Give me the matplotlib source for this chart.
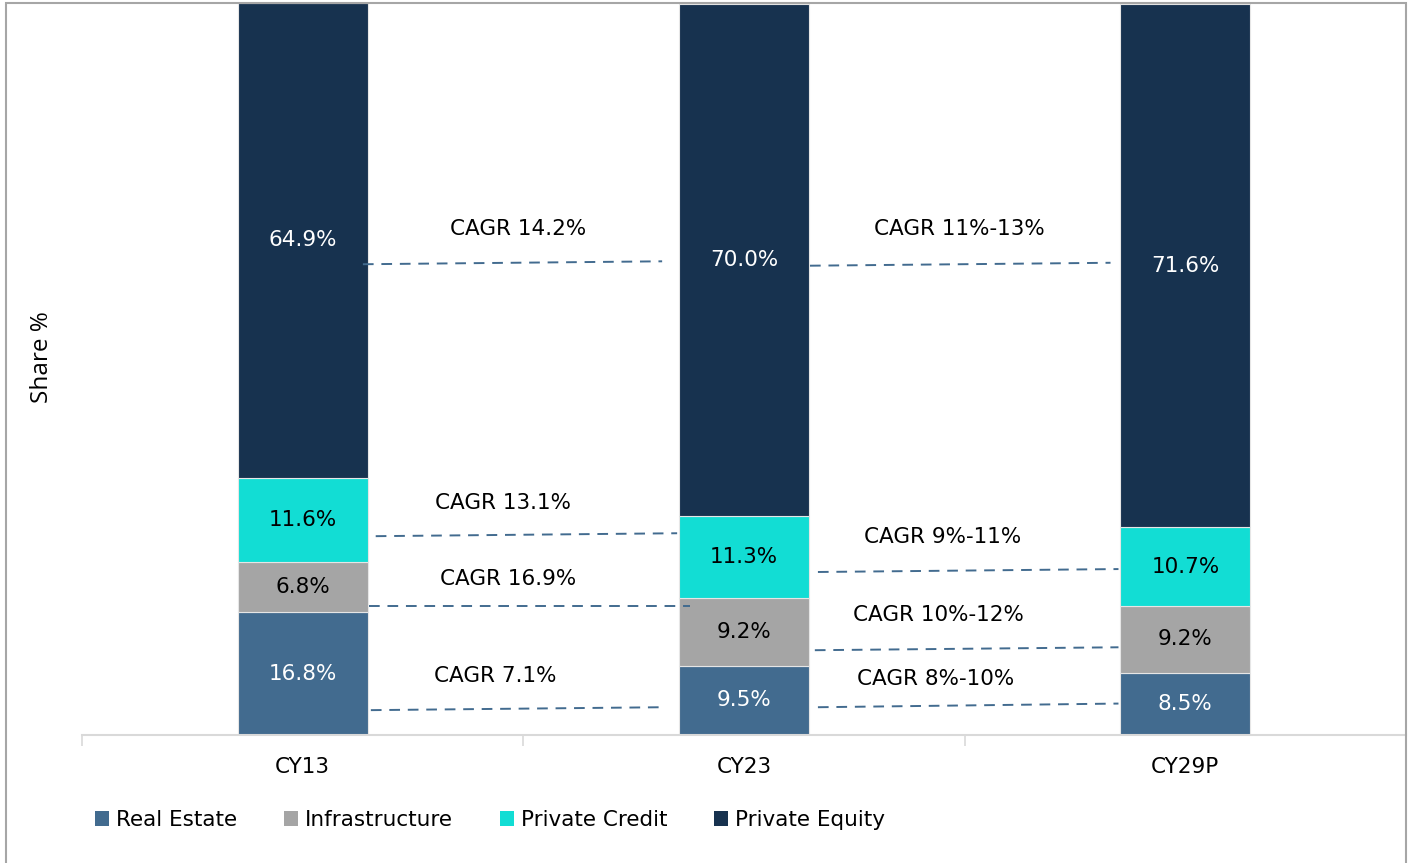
import matplotlib
matplotlib.use("Agg")
import matplotlib.pyplot as plt
from matplotlib.patches import Rectangle, Patch
import numpy as np

# data
years = ["CY13", "CY23", "CY29P"]
segments = ["Real Estate", "Infrastructure", "Private Credit", "Private Equity"]
real_estate = [16.8, 9.5, 8.5]
infrastructure = [6.8, 9.2, 9.2]
private_credit = [11.6, 11.3, 10.7]
private_equity = [64.9, 70.0, 71.6]

# CAGR annotations between bars (first gap, second gap) per segment
cagr_first = ["CAGR 7.1%", "CAGR 16.9%", "CAGR 13.1%", "CAGR 14.2%"]
cagr_second = ["CAGR 8%-10%", "CAGR 10%-12%", "CAGR 9%-11%", "CAGR 11%-13%"]
# height of the label text and of the dashed connector ends (share %)
cagr_label_y = [[8.1, 7.7], [21.3, 16.4], [31.7, 27.1], [69.2, 69.2]]
connector_y = [[(3.4, 3.8), (3.8, 4.3)],
               [(17.6, 17.6), (11.6, 12.0)],
               [(27.2, 27.6), (22.3, 22.7)],
               [(64.4, 64.8), (64.2, 64.6)]]

# layout of the annotations (offsets from the left bar centre, in category units)
label_dx = [[0.436, 0.435], [0.465, 0.440], [0.454, 0.449], [0.488, 0.489]]
conn_start = [[0.007, 0.020], [0.003, 0.013], [0.018, 0.020], [-0.011, 0.002]]
conn_end = [[0.036, 0.004], [-0.025, 0.004], [0.004, 0.004], [0.038, 0.022]]

colors = ["#426B8F", "#A5A5A5", "#12DDD4", "#17324F"]
label_colors = ["white", "black", "black", "white"]
conn_color = "#426B8F"


def main():
    plt.rcParams["font.family"] = ["DejaVu Sans"]
    fig = plt.figure(figsize=(14.08, 8.63), dpi=100)
    ax = fig.add_axes([82 / 1408, 1 - 735 / 863, 1324 / 1408, 731 / 863])

    x = np.arange(len(years))
    width = 0.295
    series = [real_estate, infrastructure, private_credit, private_equity]
    bottom = np.zeros(len(years))
    for vals, name, col, lcol in zip(series, segments, colors, label_colors):
        vals = np.array(vals)
        ax.bar(x, vals, width, bottom=bottom, color=col, edgecolor="#E6E6E6",
               linewidth=0.8, label=name)
        for xi, b, v in zip(x, bottom, vals):
            ax.text(xi, b + v / 2, f"{v:.1f}%", ha="center", va="center",
                    color=lcol, fontsize=15.5)
        bottom += vals

    # dashed connectors and CAGR labels
    for s in range(len(segments)):
        for g in range(2):
            x0 = x[g] + width / 2 + conn_start[s][g]
            x1 = x[g + 1] - width / 2 - conn_end[s][g]
            y0, y1 = connector_y[s][g]
            ax.plot([x0, x1], [y0, y1], color=conn_color, linestyle=(0, (5.5, 4)),
                    linewidth=1.4)
            txt = cagr_first[s] if g == 0 else cagr_second[s]
            ax.text(x[g] + label_dx[s][g], cagr_label_y[s][g], txt, ha="center",
                    va="center", fontsize=15.5, color="black")

    ax.set_xlim(-0.5, 2.5)
    ax.set_ylim(0, 100)
    ax.set_yticks([])
    ax.set_xticks(x)
    ax.set_xticklabels(years, fontsize=15.5)
    ax.set_xticks([-0.5, 0.5, 1.5, 2.5], minor=True)
    ax.tick_params(axis="x", which="major", length=0, pad=16)
    ax.tick_params(axis="x", which="minor", length=8, color="#D9D9D9", width=1.2)
    for side in ["top", "right", "left"]:
        ax.spines[side].set_visible(False)
    ax.spines["bottom"].set_color("#D9D9D9")
    ax.spines["bottom"].set_linewidth(1.5)

    fig.text(42 / 1408, 1 - 357 / 863, "Share %", rotation=90, ha="center",
             va="center", fontsize=17.5, family=["Open Sans", "DejaVu Sans"])

    handles = [Patch(facecolor=c, label=n) for c, n in zip(colors, segments)]
    fig.legend(handles=handles, loc="center left", ncol=4, frameon=False,
               bbox_to_anchor=(76 / 1408, 1 - 820 / 863), fontsize=15.5,
               handlelength=0.65, handleheight=0.75, handletextpad=0.3,
               columnspacing=2.2)

    # outer frame (bottom edge falls outside the picture)
    fig.add_artist(Rectangle((6 / 1408, -10 / 863), 1400 / 1408, 870 / 863,
                             transform=fig.transFigure, fill=False,
                             edgecolor="#A6A6A6", linewidth=1.5, clip_on=False))

    fig.savefig("out.png", dpi=100)


if __name__ == "__main__":
    main()
